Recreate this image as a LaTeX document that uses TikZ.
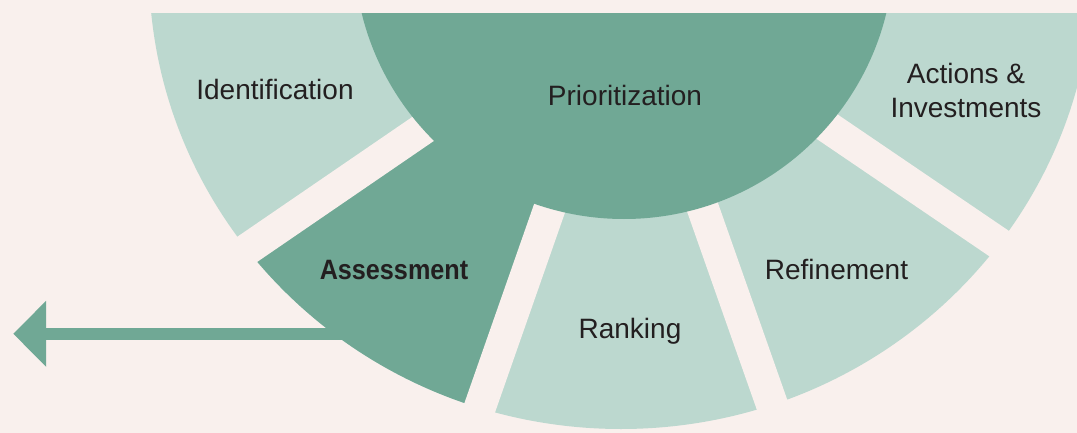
\documentclass[tikz,border=0pt]{standalone}
\usepackage{fontspec}
\setmainfont{Liberation Sans}
\newfontfamily\narrowsans{Liberation Sans}[FakeStretch=0.9]
\usetikzlibrary{arrows.meta}

\definecolor{bgpink}{RGB}{249,240,237}
\definecolor{palegreen}{RGB}{188,216,207}
\definecolor{deepgreen}{RGB}{112,168,149}
\definecolor{inkgray}{RGB}{35,31,32}

\tikzset{
  stage/.style={inner sep=0pt, anchor=base, text=inkgray, font=\fontsize{14}{17}\selectfont},
  gapband/.style={fill=bgpink},
  flow/.style={draw=deepgreen, line width=6.25pt, -{Triangle[length=16.4pt,width=32pt]}},
}

\begin{document}
\begin{tikzpicture}[x=0.5pt,y=0.5pt]
  \useasboundingbox (-626,-443) rectangle (451,-10);
  \fill[bgpink] (-626,-443) rectangle (451,-10);
  \begin{scope}
    \clip (-626,-443) rectangle (451,-23.3);
    % outer ring of stages
    \fill[palegreen] (-5,22) ellipse [x radius=472, y radius=461];
    % assessment slice takes the hub colour
    \begin{scope}
      \clip (0,0) -- (214.4:1200) -- (250.7:1200) -- cycle;
      \fill[deepgreen] (-5,22) ellipse [x radius=472, y radius=461];
    \end{scope}
    % cuts between the stages
    \foreach \a in {214.4,250.7,289.4,325.8}
      \fill[gapband, rotate=\a] (0,-16) rectangle (1200,16);
    % hub
    \fill[deepgreen] (-2,41) circle (270);
  \end{scope}

  % outgoing arrow
  \coordinate (shaftstart) at (-230,-343.8);
  \coordinate (arrowtip) at (-612.7,-343.8);
  \draw[flow] (shaftstart) -- (arrowtip);

  \node[stage] (ident) at (-351,-110) {Identification};
  \node[stage] (prior) at (-1,-116) {Prioritization};
  \node[stage, anchor=center, align=center] (actions) at (340,-100) {Actions \&\\Investments};
  \node[stage, font=\narrowsans\bfseries\fontsize{14}{17}\selectfont] (assess) at (-232,-289) {Assessment};
  \node[stage] (rank) at (4,-348) {Ranking};
  \node[stage] (refine) at (210.5,-289) {Refinement};
\end{tikzpicture}
\end{document}
